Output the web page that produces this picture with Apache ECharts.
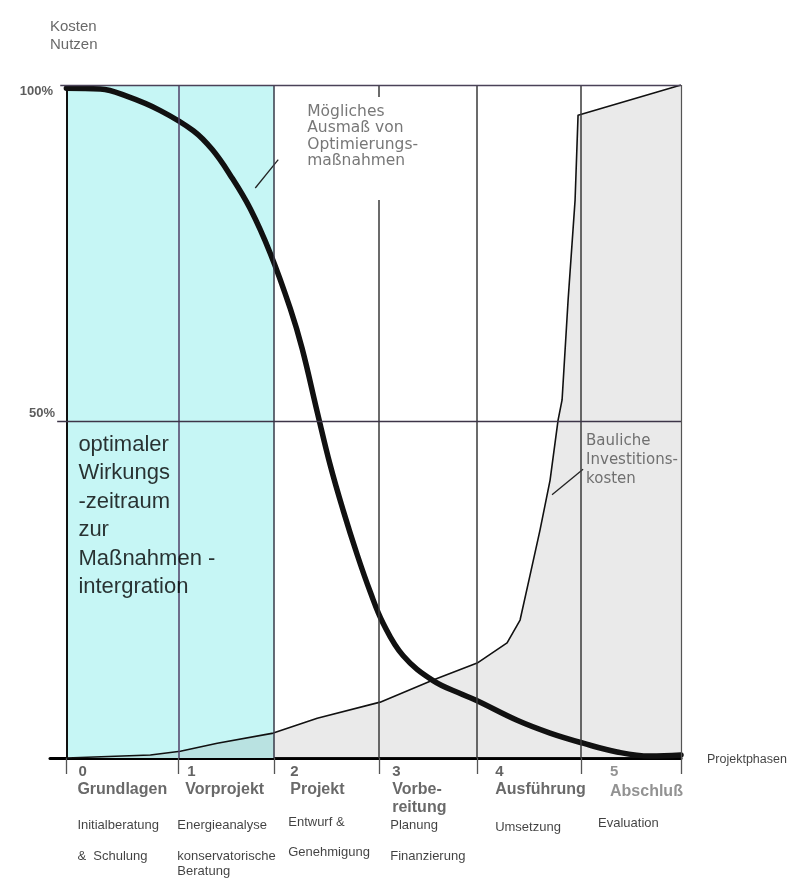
<!DOCTYPE html>
<html>
<head>
<meta charset="utf-8">
<script src="https://cdn.jsdelivr.net/npm/echarts@6/dist/echarts.min.js"></script>
<style>
html,body{margin:0;padding:0;background:#fff;}
#chart{width:791px;height:879px;}
</style>
</head>
<body>
<div id="chart"></div>
<script>
// ---------- DATA ----------
const phaseBounds = [0, 1.093, 2.029, 3.054, 4.010, 5.024, 6];
const phaseNumbers = ['0', '1', '2', '3', '4', '5'];
const phaseNames = ['Grundlagen', 'Vorprojekt', 'Projekt', 'Vorbe-\nreitung', 'Ausführung', 'Abschluß'];
const phaseTasks1 = ['Initialberatung', 'Energieanalyse', 'Entwurf &', 'Planung', 'Umsetzung', 'Evaluation'];
const phaseTasks2 = ['&  Schulung', 'konservatorische\nBeratung', 'Genehmigung', 'Finanzierung', '', ''];

// "Mögliches Ausmaß von Optimierungsmaßnahmen" (thick curve), % over phase position
const benefitX = [0, 0.332, 0.595, 0.917, 1.239, 1.424, 1.600, 1.795, 1.990, 2.185, 2.302, 2.449, 2.576, 2.702, 2.839, 2.966, 3.093, 3.288, 3.580, 3.873, 4.010, 4.400, 4.722, 5.044, 5.376, 5.698, 6.0];
const benefitY = [99.5, 99.4, 98.3, 96.2, 93.2, 90.4, 86.6, 81.6, 75.0, 66.8, 60.8, 51.4, 43.5, 36.8, 30.2, 24.7, 20.0, 15.2, 11.5, 9.4, 8.5, 5.6, 3.7, 2.2, 0.9, 0.3, 0.45];

// "Bauliche Investitionskosten" (thin curve with grey area)
const costX = [0, 0.820, 1.112, 1.473, 2.020, 2.449, 3.063, 3.580, 4.010, 4.302, 4.429, 4.527, 4.624, 4.722, 4.800, 4.839, 4.898, 4.966, 4.995, 6.0];
const costY = [0, 0.45, 1.0, 2.2, 3.7, 5.9, 8.3, 11.6, 14.1, 17.1, 20.5, 27.2, 33.9, 41.3, 50.2, 53.2, 68.1, 82.9, 95.5, 100];

const yTickValues = [100, 50];
const yTickLabels = ['100%', '50%'];

const leaderBenefit = [[1.844, 84.7], [2.068, 88.9]];
const leaderCost = [[4.741, 39.1], [5.044, 42.9]];

const axisTitle = 'Kosten\nNutzen';
const xTitle = 'Projektphasen';
const benefitNote = 'Mögliches\nAusmaß von\nOptimierungs-\nmaßnahmen';
const costNote = 'Bauliche\nInvestitions-\nkosten';
const optimalNote = 'optimaler\nWirkungs\n-zeitraum\nzur\nMaßnahmen -\nintergration';

// ---------- LAYOUT (pixel offsets of texts from their anchors) ----------
const numDx = [12, 9, 16, 13, 18, 29];
const nameDx = [11, 7, 16, 13, 18, 29];
const taskDx = [11, -1, 14, 11, 18, 17];
const task1Dy = [67, 67, 64, 67, 69, 65];
const task2Dy = [91, 91, 87, 91, 91, 91];

const FONT = 'Liberation Sans, Arial, sans-serif';
const NOTEFONT = 'DejaVu Sans, Verdana, sans-serif';

function zip(xs, ys) { return xs.map((x, i) => [x, ys[i]]); }
function txt(x, y, text, dx, dy, st) {
  return {
    value: [x, y],
    label: Object.assign({
      show: true, formatter: text, position: [dx, dy],
      align: 'left', verticalAlign: 'middle',
      fontFamily: FONT, fontSize: 13, color: '#111'
    }, st || {})
  };
}

const texts = [];
texts.push(txt(-0.16, yTickValues[0], yTickLabels[0], 3, 6, {align: 'right', fontWeight: 'bold', color: '#333', fontSize: 13}));
texts.push(txt(-0.16, yTickValues[1], yTickLabels[1], 5, -8, {align: 'right', fontWeight: 'bold', color: '#333', fontSize: 13}));
texts.push(txt(-0.16, 100, axisTitle, 0, -67, {verticalAlign: 'top', lineHeight: 18, fontSize: 15, color: '#444'}));
texts.push(txt(6, 0, xTitle, 26, 2, {fontSize: 12.5, color: '#111'}));
for (let i = 0; i < 6; i++) {
  const b = phaseBounds[i];
  texts.push(txt(b, 0, phaseNumbers[i], numDx[i], 14, {fontSize: 15, fontWeight: 'bold', color: i === 5 ? '#777' : '#3c3c3c'}));
  texts.push(txt(b, 0, phaseNames[i], nameDx[i], i === 5 ? 25 : 23, {verticalAlign: 'top', lineHeight: 18, fontSize: 16, fontWeight: 'bold', color: i === 5 ? '#777' : '#444'}));
  texts.push(txt(b, 0, phaseTasks1[i], taskDx[i], task1Dy[i], {fontSize: 13}));
  if (phaseTasks2[i]) texts.push(txt(b, 0, phaseTasks2[i], taskDx[i], task2Dy[i], {verticalAlign: 'top', lineHeight: 15, fontSize: 13}));
}
texts.push(txt(leaderBenefit[1][0], leaderBenefit[1][1], benefitNote, 29, -56, {verticalAlign: 'top', lineHeight: 16.5, fontFamily: NOTEFONT, fontSize: 15.5, color: '#555'}));
texts.push(txt(leaderCost[1][0], leaderCost[1][1], costNote, 3, -38, {verticalAlign: 'top', lineHeight: 19, fontFamily: NOTEFONT, fontSize: 15, color: '#505050'}));
texts.push(txt(0, 50, optimalNote, 12, 9, {verticalAlign: 'top', lineHeight: 28.5, fontSize: 22, color: '#000'}));

function vline(x, y0, y1, color, w) {
  return [{coord: [x, y0], lineStyle: {color: color, width: w, type: 'solid'}}, {coord: [x, y1]}];
}
function hline(y, x0, x1, color, w) {
  return [{coord: [x0, y], lineStyle: {color: color, width: w, type: 'solid'}}, {coord: [x1, y]}];
}

const gridLines = [
  vline(phaseBounds[0], 0, 100, '#111', 2),
  vline(phaseBounds[1], 0, 100, '#4e3f66', 1.5),
  vline(phaseBounds[2], 0, 100, '#3a3a48', 1.5),
  vline(phaseBounds[3], 0, 82.9, '#3a3a3a', 1.5),
  vline(phaseBounds[3], 98.2, 100, '#3a3a3a', 1.5),
  vline(phaseBounds[4], 0, 100, '#3a3a3a', 1.5),
  vline(phaseBounds[5], 0, 100, '#3a3a3a', 1.5),
  vline(phaseBounds[6], 0, 100, '#555', 1.2),
  hline(100, -0.06, 6, '#4a4258', 1.3),
  hline(50, -0.09, 6, '#3d3548', 1.3)
];

const chart = echarts.init(document.getElementById('chart'), null, {renderer: 'canvas'});
chart.setOption({
  animation: false,
  backgroundColor: '#fff',
  grid: {left: 50, right: 110, top: 85, bottom: 121, containLabel: false},
  xAxis: {
    type: 'value', min: -0.16, max: 6,
    splitLine: {show: false},
    axisLine: {show: true, onZero: false, lineStyle: {color: '#000', width: 3}},
    axisTick: {show: true, customValues: phaseBounds, length: 16, inside: false, lineStyle: {color: '#555', width: 1.3}},
    axisLabel: {show: false}
  },
  yAxis: {
    type: 'value', min: 0, max: 100,
    splitLine: {show: false},
    axisLine: {show: false},
    axisTick: {show: false},
    axisLabel: {show: false}
  },
  series: [
    {
      name: 'frame', type: 'line', data: [], z: 1, silent: true,
      markArea: {
        silent: true,
        itemStyle: {color: '#c6f6f5'},
        data: [[{coord: [phaseBounds[0], 0]}, {coord: [phaseBounds[2], 100]}]]
      }
    },
    {
      name: 'Bauliche Investitionskosten', type: 'line', z: 2, silent: true,
      data: zip(costX, costY), symbol: 'none', smooth: false,
      lineStyle: {color: '#111', width: 1.6, join: 'round'},
      areaStyle: {color: 'rgba(120,120,120,0.22)'}
    },
    {
      name: 'lines', type: 'line', data: [], z: 3, silent: true,
      markLine: {silent: true, symbol: ['none', 'none'], label: {show: false}, data: gridLines}
    },
    {
      name: 'Mögliches Ausmaß von Optimierungsmaßnahmen', type: 'line', z: 4, silent: true,
      data: zip(benefitX, benefitY), symbol: 'none', smooth: 0.4,
      lineStyle: {color: '#111', width: 5.5, cap: 'round', join: 'round'}
    },
    {
      name: 'leader1', type: 'line', z: 4, silent: true, data: leaderBenefit, symbol: 'none',
      lineStyle: {color: '#222', width: 1.3}
    },
    {
      name: 'leader2', type: 'line', z: 4, silent: true, data: leaderCost, symbol: 'none',
      lineStyle: {color: '#222', width: 1.3}
    },
    {
      name: 'texts', type: 'scatter', z: 5, silent: true, symbolSize: 0,
      itemStyle: {color: 'transparent'},
      data: texts
    }
  ]
});
</script>
</body>
</html>
